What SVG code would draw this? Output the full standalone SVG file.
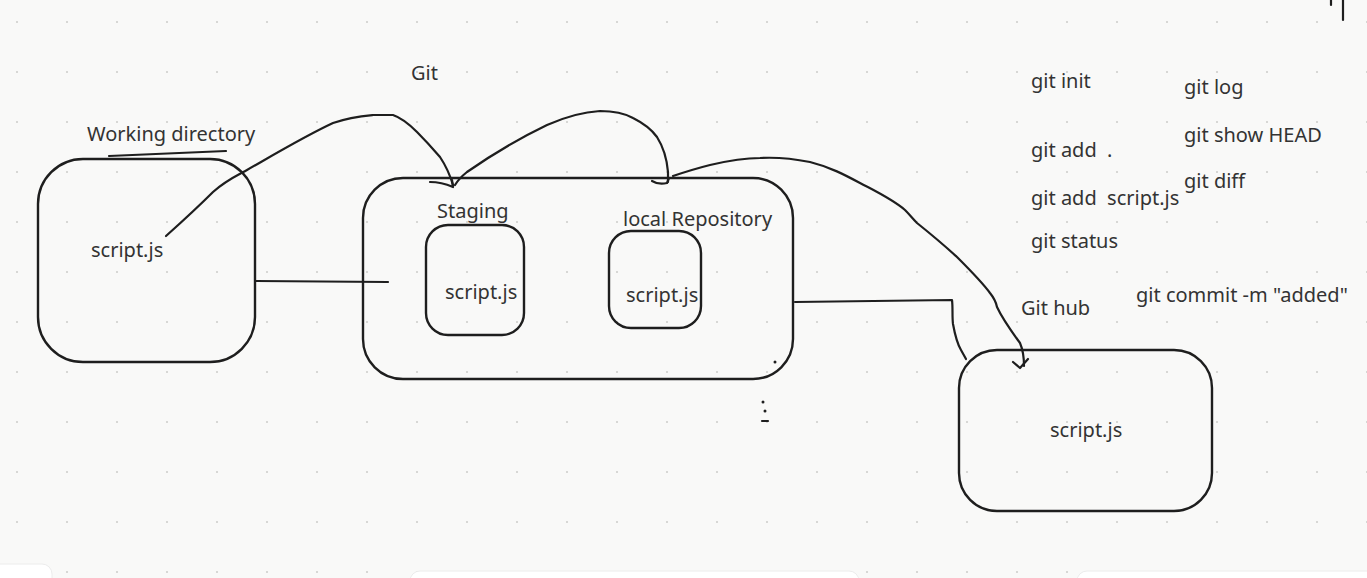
<svg xmlns="http://www.w3.org/2000/svg" width="1367" height="578" viewBox="0 0 1367 578">
<defs>
<pattern id="grid" patternUnits="userSpaceOnUse" x="0" y="0" width="50" height="50">
<circle cx="17" cy="22" r="1.1" fill="#cfcfcc"/>
</pattern>
<style>
.box{fill:none;stroke:#1e1e1e;stroke-width:2.4}
.ln{fill:none;stroke:#1e1e1e;stroke-width:2.2;stroke-linecap:round;stroke-linejoin:round}
.t{font-family:"Noto Sans","Open Sans","DejaVu Sans",sans-serif;font-size:20px;fill:#333}
.ui{fill:#ffffff;stroke:#ececec;stroke-width:1}
</style>
</defs>
<rect x="0" y="0" width="1367" height="578" fill="#f9f9f8"/>
<rect x="0" y="0" width="1367" height="578" fill="url(#grid)"/>

<g id="working-directory">
<rect class="box" x="38" y="159" width="217" height="203" rx="45"/>
<path class="ln" d="M109,156 L226,151"/>
<text class="t" x="87" y="141">Working directory</text>
<text class="t" x="91" y="257">script.js</text>
</g>

<g id="git-label">
<text class="t" x="411" y="80">Git</text>
</g>

<g id="git">
<rect class="box" x="363" y="178" width="430" height="201" rx="40"/>
</g>

<g id="staging">
<text class="t" x="437" y="218">Staging</text>
<rect class="box" x="426" y="225" width="98" height="110" rx="22"/>
<text class="t" x="445" y="299">script.js</text>
</g>

<g id="local-repository">
<text class="t" x="623" y="226">local Repository</text>
<rect class="box" x="609" y="231" width="92" height="97" rx="22"/>
<text class="t" x="626" y="302">script.js</text>
</g>

<g id="github">
<text class="t" x="1021" y="315">Git hub</text>
<rect class="box" x="959" y="350" width="253" height="161" rx="38"/>
<text class="t" x="1050" y="437">script.js</text>
</g>

<g id="commands">
<text class="t" x="1031" y="88">git init</text>
<text class="t" x="1031" y="157" xml:space="preserve" style="white-space:pre">git add  .</text>
<text class="t" x="1031" y="205" xml:space="preserve" style="white-space:pre">git add  script.js</text>
<text class="t" x="1031" y="248">git status</text>
<text class="t" x="1184" y="94">git log</text>
<text class="t" x="1184" y="142">git show HEAD</text>
<text class="t" x="1184" y="188">git diff</text>
<text class="t" x="1136" y="302">git commit -m "added"</text>
</g>

<g id="connectors">
<path class="ln" d="M166,236 C185,219 200,205 213,192 C225,181 236,176 247,170 C275,154 305,136 333,123 C350,117 362,116 373,115 L393,115 C402,118 410,125 417,132 C426,141 434,150 440,157 C446,166 450,175 453,185"/>
<path class="ln" d="M430,182 C438,182 446,184 453,187 L452,180"/>
<path class="ln" d="M455,185 C458,180 462,176 467,172 C490,156 520,138 547,125 C565,117 583,112 600,111 C613,111 624,113 633,118 C645,124 652,130 657,137 C664,148 667,160 668,172 L668,182"/>
<path class="ln" d="M652,181 C657,184 663,184 667,183 L669,178"/>
<path class="ln" d="M673,176 C685,172 698,168 710,165 C727,161 743,158 760,158 C778,157 795,159 810,162 C830,167 845,175 860,183 C875,191 892,199 905,210 C910,215 913,219 917,223 C932,235 945,246 957,257 C970,270 982,282 990,293 C994,298 996,302 997,307 C1003,320 1012,332 1020,343 C1023,350 1024,356 1024,366"/>
<path class="ln" d="M1013,362 L1020,368 L1028,359"/>
<path class="ln" d="M256,281 L388,282"/>
<path class="ln" d="M795,302 L952,300 C953,308 952,316 953,324 C955,335 958,345 961,350 L966,359"/>
</g>

<g id="marks">
<circle cx="775" cy="362" r="1.5" fill="#1e1e1e"/>
<circle cx="763" cy="402" r="1.5" fill="#1e1e1e"/>
<circle cx="765" cy="411" r="1.5" fill="#1e1e1e"/>
<path class="ln" d="M762,421 L768,421"/>
<path class="ln" d="M1331,0 L1331,5"/>
<path class="ln" d="M1343,0 L1343,20"/>
</g>

<g id="toolbar">
<rect class="ui" x="-10" y="564" width="62" height="30" rx="10"/>
<rect class="ui" x="410" y="571" width="449" height="30" rx="10"/>
<rect class="ui" x="1077" y="571" width="300" height="30" rx="10"/>
</g>
</svg>
